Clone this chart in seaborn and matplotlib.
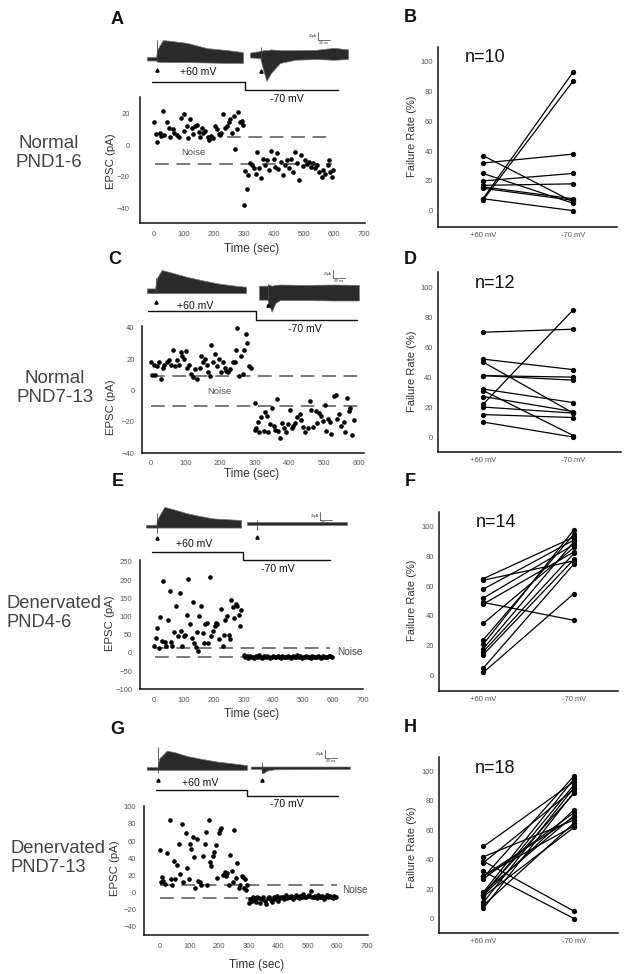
import numpy as np
import pandas as pd
import matplotlib
matplotlib.use("Agg")
import matplotlib.pyplot as plt
import seaborn as sns

sns.set_style("white")
plt.rcParams["font.family"] = ["Liberation Sans", "DejaVu Sans"]

W, H = 629, 974

# ---------------- EPSC amplitude vs time (left column) ----------------
a_pos_t = [0, 7, 11, 18, 22, 29, 33, 42, 49, 53, 62, 67, 76, 84, 89, 98, 100, 109, 114, 120,
           126, 131, 136, 142, 149, 153, 159, 164, 171, 178, 182, 189, 196, 204, 211, 216, 218,
           222, 231, 237, 242, 248, 253, 260, 267, 271, 276, 281, 287, 292, 296]
a_pos_y = [15, 7, 2, 8, 6, 22, 6.5, 15, 11, 5, 10, 8, 6.5, 5, 17.5, 20, 9, 12, 4.5, 16.5,
           11, 7, 12.5, 13, 8.5, 5.5, 11, 8, 9, 5, 3.5, 6, 4.5, 12.5, 10, 7, 6.5,
           8, 20, 11, 12.5, 15, 16.5, 8, 18.5, -2.5, 10, 21, 15, 15.5, 13]
a_neg_t = [300, 304, 309, 314, 320, 327, 333, 340, 344, 351, 357, 362, 369, 376, 382, 391,
           398, 402, 409, 414, 422, 429, 436, 442, 449, 456, 462, 470, 476, 482, 489, 496,
           502, 509, 516, 522, 529, 536, 542, 551, 558, 564, 571, 578, 582, 587, 593, 596]
a_neg_y = [-38, -16.5, -28, -19, -11.5, -12.5, -14.5, -18, -4.5, -14.5, -20.5, -8.5, -12.5,
           -9.5, -15.5, -3.5, -8.5, -13.5, -5, -15, -10.5, -19, -12.5, -9.5, -14.5, -8.5, -17,
           -4.5, -11.5, -22, -6, -13, -9.5, -12, -10.5, -13.5, -11.5, -14.5, -12.5, -17, -20,
           -16, -18.5, -12.5, -9.5, -17, -20, -16]

c_pos_t = [0, 4, 10, 14, 19, 25, 29, 35, 40, 46, 54, 60, 64, 69, 75, 81, 87, 92, 96, 102,
           106, 112, 116, 121, 127, 135, 143, 146, 150, 156, 162, 166, 171, 175, 181, 187,
           193, 197, 202, 208, 214, 218, 224, 229, 237, 243, 247, 250, 256, 260, 266, 270,
           275, 279, 283, 289]
c_pos_y = [18, 10, 16.5, 10, 15.5, 18, 7, 14, 16, 18, 19.5, 16, 26, 15.5, 19.5, 16, 24.5, 22,
           20, 25, 14, 16, 10.5, 8.5, 13.5, 7, 14, 22, 18, 20, 16, 11.5, 9.5, 29, 18, 23,
           15.5, 20, 11.5, 18, 14.5, 12.5, 11.5, 13.5, 18, 18, 26, 39.5, 9.5, 22, 10.5, 26,
           36, 30, 15.5, 14.5]
c_neg_t = [300, 302, 304, 310, 314, 320, 326, 330, 335, 340, 345, 351, 355, 360, 364, 368,
           374, 380, 385, 391, 397, 403, 407, 412, 418, 424, 430, 435, 441, 447, 453, 459,
           464, 470, 476, 480, 486, 491, 497, 502, 507, 512, 518, 522, 528, 534, 539, 545,
           551, 557, 562, 566, 572, 576, 582, 588]
c_neg_y = [-25, -8, -24, -20, -26.5, -17, -25.5, -14, -16, -26.5, -21.5, -11, -22.5, -25,
           -5.5, -25.5, -30.5, -20.5, -24, -26.5, -21.5, -12.5, -24, -22.5, -20.5, -17, -15,
           -18.5, -23, -26.5, -24, -6.5, -12.5, -23.5, -13, -20.5, -14.5, -16, -19.5, -9.5,
           -25.5, -18, -20, -28, -3.5, -3, -18, -15, -22.5, -20, -26.5, -4.5, -13, -11,
           -28.5, -18.5]

e_pos_t = [0, 6, 10, 17, 21, 28, 30, 37, 41, 46, 52, 57, 61, 68, 74, 79, 86, 90, 94, 99,
           103, 110, 114, 119, 126, 130, 134, 139, 143, 148, 152, 159, 163, 168, 172, 177,
           181, 188, 192, 197, 203, 208, 212, 219, 223, 230, 234, 239, 243, 250, 254, 259,
           263, 268, 274, 279, 283, 288, 292]
e_pos_y = [18, 41, 69, 14, 99, 32, 197, 29, 18, 91, 169, 29, 18, 57, 128, 46, 165, 59, 20,
           46, 49, 105, 203, 78, 41, 139, 26, 17, 57, 5, 101, 128, 55, 26, 78, 82, 26, 208,
           46, 59, 75, 82, 78, 37, 121, 20, 50, 91, 102, 50, 37, 146, 126, 96, 133, 128, 105,
           73, 117]
e_neg_y = [-5, -12, -9, -13, -8, -11, -10, -14, -9, -12, -7, -11, -13, -10, -9, -12, -8, -11,
           -13, -10, -9, -12, -11, -8, -10, -13, -9, -11, -12, -10, -8, -11, -13, -9, -10,
           -12, -6, -11, -9, -13, -10, -12, -8, -11, -10, -14, -9, -12, -11, -10, -8, -12,
           -13, -9, -11, -10, -12, -9, -8, -10]
e_neg_t = list(range(300, 300 + 5 * len(e_neg_y), 5))

g_pos_t = [0, 2, 7, 11, 16, 23, 34, 36, 41, 47, 52, 59, 65, 68, 73, 79, 88, 93, 99, 102,
           106, 111, 115, 120, 124, 129, 135, 140, 144, 151, 156, 160, 165, 169, 174, 178,
           183, 190, 194, 199, 203, 208, 215, 219, 224, 228, 233, 237, 244, 248, 251, 257,
           262, 266, 271, 276, 280, 285, 289, 291, 294]
g_pos_y = [49, 12, 17.5, 13.5, 10, 46, 85, 15.5, 8, 37, 15, 32, 56.5, 21.5, 80, 12, 69.5, 29,
           15, 56.5, 51, 64.5, 41, 5, 62, 13.5, 12, 8, 42, 56.5, 70.5, 8, 85, 36, 30.5, 43,
           47, 55, 16.5, 69.5, 72.5, 75, 20, 23.5, 19, 22.5, 8.5, 44, 25.5, 12, 72.5, 16.5,
           34.5, 5, 8.5, 19.5, 17.5, 5, 15, 3, 8.5]
g_neg_y = [-12, -8, -10, -6, -9, -11, -5, -7, -13, -8, -6, -10, -14, -7, -5, -9, -11, -6, -8,
           -4, -10, -7, -5, -6, -8, -3, -7, -5, -6, -4, -8, -5, -3, -6, -7, -4, -5, -2, -6,
           -5, -4, -3, 1, -5, -6, -4, -7, -3, -5, -6, -4, -8, -5, -3, -6, -4, -5, -7, -4, -5]
g_neg_t = list(range(300, 300 + 5 * len(g_neg_y), 5))

# noise band (upper, lower) per panel
noise_a = (5, -12)
noise_c = (9, -10)
noise_e = (14, -11)
noise_g = (8, -7)

# ---------------- failure rates (right column) ----------------
conds = ["+60 mV", "-70 mV"]
b_pos = [37, 32, 25, 20, 17, 16, 15, 8, 8, 7]
b_neg = [6, 38, 5, 25, 18, 8, 7, 0, 93, 87]
d_pos = [70, 52, 50, 41, 41, 32, 31, 27, 22, 20, 15, 10]
d_neg = [72, 45, 16, 40, 38, 23, 1, 17, 85, 16, 13, 0]
f_pos = [65, 64, 58, 52, 49, 48, 35, 24, 21, 18, 16, 14, 5, 2]
f_neg = [93, 77, 91, 88, 37, 83, 86, 95, 98, 90, 82, 78, 75, 55]
h_pos = [49, 42, 39, 32, 38, 29, 28, 27, 18, 17, 16, 15, 18, 11, 9, 7, 16, 29]
h_neg = [93, 67, 5, 0, 88, 63, 97, 72, 95, 85, 91, 62, 70, 89, 65, 86, 74, 69]

# ---------------- example traces: envelope (ms, pA) ----------------
a1_t = [0, 30, 36, 53, 80, 133, 200, 267, 320]
a1_hi = [4, 4, 25, 46, 44, 39, 26, 21, 16]
a1_lo = [-5, -5, -8, -9, -9, -9, -10, -11, -11]
a2_t = [0, 34, 45, 55, 70, 100, 150, 220, 280, 327]
a2_hi = [6, 10, 12, 12, 14, 12, 12, 13, 18, 14]
a2_lo = [-6, -8, -40, -65, -45, -20, -12, -10, -12, -10]
c1_t = [0, 27, 33, 49, 90, 132, 180, 232, 280, 330]
c1_hi = [4, 4, 30, 50, 42, 33, 25, 17, 12, 8]
c1_lo = [-8, -8, -8, -8, -8, -8, -8, -8, -8, -8]
c2_t = [0, 28, 32, 42, 55, 70, 150, 250, 333]
c2_hi = [15, 15, 18, 15, 17, 18, 17, 18, 17]
c2_lo = [-20, -20, -30, -50, -28, -21, -21, -22, -22]
e1_t = [0, 33, 40, 61, 90, 136, 180, 224, 270, 317]
e1_hi = [3, 3, 20, 48, 42, 32, 25, 19, 17, 15]
e1_lo = [-4, -4, -4, -4, -4, -4, -4, -4, -4, -4]
e2_t = [0, 333]
e2_hi = [4, 4]
e2_lo = [-4, -4]
g1_t = [0, 36, 42, 67, 95, 133, 180, 233, 290, 334]
g1_hi = [3, 3, 25, 44, 40, 31, 24, 17, 12, 8]
g1_lo = [-4, -4, -4, -4, -4, -4, -4, -4, -4, -4]
g2_t = [0, 35, 38, 45, 55, 80, 331]
g2_hi = [3, 3, 3, 3, 3, 3, 3]
g2_lo = [-3, -3, -14, -12, -7, -4, -3]

MS_PX = 10 / 3   # ms per pixel in the trace insets
PA_PX = 2.5      # pA per pixel in the trace insets


def box(l, t, r, b):
    return [l / W, 1 - b / H, (r - l) / W, (b - t) / H]


fig = plt.figure(figsize=(W / 100, H / 100), dpi=100)
ov = fig.add_axes([0, 0, 1, 1])
ov.set_xlim(0, W)
ov.set_ylim(H, 0)
ov.axis("off")

TXT = "#333333"
TICK = "#555555"


def epsc_panel(rect, xlim, ylim, yticks, xticks, tp, yp, tn, yn, noise, spans, padx, pady):
    ax = fig.add_axes(box(*rect))
    sns.scatterplot(x=tp + tn, y=yp + yn, color="black", s=11, linewidth=0, ax=ax, zorder=3)
    ax.plot(spans[0], [noise[0]] * 2, color="#555555", lw=1.1, ls=(0, (9, 5)), zorder=2)
    ax.plot(spans[1], [noise[1]] * 2, color="#555555", lw=1.1, ls=(0, (9, 5)), zorder=2)
    ax.set_xlim(*xlim)
    ax.set_ylim(*ylim)
    ax.set_xticks(xticks)
    ax.set_yticks(yticks)
    ax.tick_params(labelsize=5.5, labelcolor=TICK, length=1.5, width=0.6, color="#777777")
    ax.tick_params(axis="x", pad=padx)
    ax.tick_params(axis="y", pad=pady)
    sns.despine(ax=ax)
    for s in ["left", "bottom"]:
        ax.spines[s].set_linewidth(1.1)
        ax.spines[s].set_color("#111111")
    ax.patch.set_alpha(0)
    return ax


def rate_panel(rect, xlim, ylim, pos, neg):
    ax = fig.add_axes(box(*rect))
    n = len(pos)
    df = pd.DataFrame({"cell": list(range(n)) * 2,
                       "cond": [0] * n + [1] * n,
                       "rate": pos + neg})
    sns.lineplot(data=df, x="cond", y="rate", units="cell", estimator=None, color="black",
                 lw=0.9, marker="o", markersize=3.8, markeredgewidth=0, ax=ax)
    ax.set_xlim(*xlim)
    ax.set_ylim(*ylim)
    ax.set_xticks([0, 1], conds)
    ax.set_yticks(range(0, 101, 20))
    ax.set_xlabel("")
    ax.set_ylabel("")
    ax.tick_params(labelsize=5.5, labelcolor=TICK, length=1.5, width=0.6, color="#777777", pad=2.2)
    sns.despine(ax=ax)
    for s in ["left", "bottom"]:
        ax.spines[s].set_linewidth(1.1)
        ax.spines[s].set_color("#111111")
    ax.patch.set_alpha(0)
    return ax


def sweep(x0, x1, base, t, hi, lo, stim, art, tri, bar=None):
    ax = fig.add_axes(box(x0, base - 25, x1, base + 30))
    ax.set_xlim(0, (x1 - x0) * MS_PX)
    ax.set_ylim(-30 * PA_PX, 25 * PA_PX)
    ax.axis("off")
    ax.fill_between(t, lo, hi, color="#2a2a2a", lw=0.5, edgecolor="#777777")
    ax.vlines(stim, art[0], art[1], color="#444444", lw=0.6)
    ax.plot([stim], [tri], marker="^", ms=2.3, color="black", lw=0)
    if bar is not None:
        bt, by = bar
        ax.plot([bt, bt], [by, by + 20], color="#333333", lw=0.5, clip_on=False)
        ax.plot([bt, bt + 40], [by, by], color="#333333", lw=0.5, clip_on=False)
        ax.text(bt - 3, by + 10, "20pA", fontsize=2.4, ha="right", va="center", color="#333333")
        ax.text(bt + 20, by - 2, "40 ms", fontsize=2.4, ha="center", va="top", color="#333333")
    return ax


def protocol(x0, xm, x1, ytop, ybot, lab1, lab2):
    ov.plot([x0, xm, xm, x1], [ytop, ytop, ybot, ybot], color="#111111", lw=1.0)
    ov.text(lab1[0], lab1[1], "+60 mV", fontsize=7.6, ha="center", va="center", color="#111111")
    ov.text(lab2[0], lab2[1], "-70 mV", fontsize=7.6, ha="center", va="center", color="#111111")


# ---- row A/B ----
epsc_panel((140, 97, 365, 223), (-47, 703), (-49.3, 30.6), [-40, -20, 0, 20], range(0, 701, 100),
           a_pos_t, a_pos_y, a_neg_t, a_neg_y, noise_a, ([242, 592], [3, 592]), 4.2, 6)
rate_panel((438, 47, 617, 227), (-0.5, 1.49), (-11, 110), b_pos, b_neg)
sweep(147, 243, 58.5, a1_t, a1_hi, a1_lo, 33, (-9, 46), -29)
sweep(250, 348, 55, a2_t, a2_hi, a2_lo, 36, (-12, 20), -39, bar=(226, 37))
protocol(152, 245, 338, 82, 90, (198, 72), (287, 99))

# ---- row C/D ----
epsc_panel((142.3, 326, 364, 453.3), (-24, 616), (-40, 41), [-40, -20, 0, 20, 40], range(0, 601, 100),
           c_pos_t, c_pos_y, c_neg_t, c_neg_y, noise_c, ([0, 615], [0, 615]), 3.4, 4)
rate_panel((437.7, 272.3, 620.7, 452), (-0.507, 1.527), (-10, 110), d_pos, d_neg)
sweep(147, 246, 290, c1_t, c1_hi, c1_lo, 30, (-8, 30), -29)
sweep(259, 359, 291.7, c2_t, c2_hi, c2_lo, 30, (-20, 20), -33, bar=(247, 34))
protocol(148, 256, 357, 311, 320, (195, 305.7), (305, 329))

# ---- row E/F ----
epsc_panel((140, 560, 363, 689.3), (-47, 697), (-100, 255), range(-100, 251, 50), range(0, 701, 100),
           e_pos_t, e_pos_y, e_neg_t, e_neg_y, noise_e, ([2, 591], [2, 591]), 4, 4)
rate_panel((439, 511.7, 618, 690.7), (-0.49, 1.485), (-10.3, 110), f_pos, f_neg)
sweep(146, 241, 526, e1_t, e1_hi, e1_lo, 36, (-17, 33), -31)
sweep(247, 347, 523.3, e2_t, e2_hi, e2_lo, 34, (-17, 8), -33, bar=(243, 8))
protocol(152, 243, 330, 551.7, 560, (194, 544), (278, 569.3))

# ---- row G/H ----
epsc_panel((144.3, 806, 368.3, 935), (-53, 705), (-50, 101), range(-40, 101, 20), range(0, 701, 100),
           g_pos_t, g_pos_y, g_neg_t, g_neg_y, noise_g, ([0, 598], [0, 598]), 4.3, 4.3)
rate_panel((439, 756.7, 618, 933.3), (-0.49, 1.485), (-10, 110), h_pos, h_neg)
sweep(146.7, 247, 768.3, g1_t, g1_hi, g1_lo, 39, (-12.5, 54), -29)
sweep(250.7, 350, 767.7, g2_t, g2_hi, g2_lo, 37, (-13, 15), -31, bar=(248, 23.5))
protocol(156, 247.3, 338.3, 790, 796, (200, 783.3), (286.7, 804))

# ---- axis labels, noise labels, panel letters, row names ----
for x, y in [(111, 160.7), (111, 407), (110, 623), (115.5, 868)]:
    ov.text(x, y, "EPSC (pA)", fontsize=8.2, rotation=90, ha="center", va="center", color=TXT)
for x, y in [(252, 249), (252, 474), (252, 714), (257, 965)]:
    ov.text(x, y, "Time (sec)", fontsize=8.5, ha="center", va="center", color=TXT)
for x, y in [(412.3, 136.7), (411.7, 371.7), (412.3, 600.7), (412.3, 847.3)]:
    ov.text(x, y, "Failure Rate (%)", fontsize=8, rotation=90, ha="center", va="center", color=TXT)
for x, y, s in [(485, 57.3, "n=10"), (495, 283.3, "n=12"), (496, 522.3, "n=14"), (495, 768.3, "n=18")]:
    ov.text(x, y, s, fontsize=13, ha="center", va="center", color="#111111")

ov.text(193, 152.5, "Noise", fontsize=6.8, ha="center", va="center", color="#555555")
ov.text(219, 392, "Noise", fontsize=6.8, ha="center", va="center", color="#555555")
ov.text(337, 652, "Noise", fontsize=7.2, ha="left", va="center", color="#444444")
ov.text(341.7, 890.3, "Noise", fontsize=7.2, ha="left", va="center", color="#444444")

for x, y, s in [(117, 19, "A"), (410, 18, "B"), (115, 260, "C"), (410, 260, "D"),
                (118, 481, "E"), (410, 481, "F"), (117, 729, "G"), (410, 727, "H")]:
    ov.text(x, y, s, fontsize=13, fontweight="bold", ha="center", va="center", color="#111111")

ov.text(49, 153, "Normal\nPND1-6", fontsize=13.5, ha="center", va="center",
        multialignment="center", linespacing=1.1, color="#444444")
ov.text(55, 388, "Normal\nPND7-13", fontsize=13.5, ha="center", va="center",
        multialignment="center", linespacing=1.2, color="#444444")
ov.text(7, 612.7, "Denervated\nPND4-6", fontsize=13.2, ha="left", va="center",
        multialignment="left", linespacing=1.15, color="#444444")
ov.text(10, 858.3, "Denervated\nPND7-13", fontsize=13.2, ha="left", va="center",
        multialignment="left", linespacing=1.15, color="#444444")

fig.savefig("out.png", dpi=100)
